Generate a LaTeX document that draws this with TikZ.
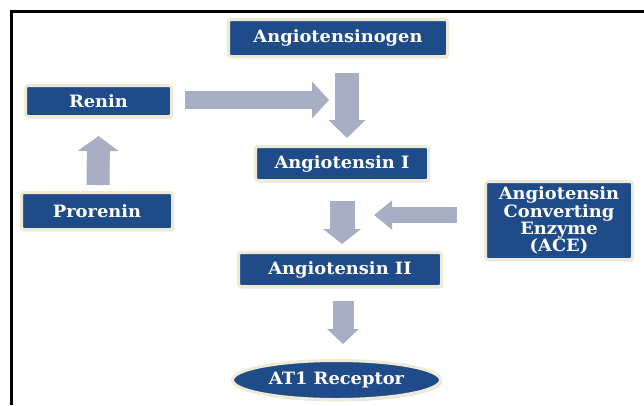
\documentclass[tikz,border=0pt]{standalone}
\usepackage{fontspec}
\setmainfont{DejaVu Serif}[FakeStretch=1.05]
\usetikzlibrary{arrows.meta,calc,shadows,shapes.geometric}
\definecolor{boxblue}{HTML}{1F4C88}
\definecolor{cream}{HTML}{EEEAD6}
\definecolor{arrowgray}{HTML}{A8AEC3}
\begin{document}
\begin{tikzpicture}[x=1pt,y=-1pt,
  box/.style={rectangle, rounded corners=2.5pt, fill=boxblue, draw=cream, line width=3pt,
    text=white, font=\bfseries\fontsize{17}{16}\selectfont, inner sep=0pt, align=center,
    drop shadow={shadow xshift=1.2pt, shadow yshift=-1.8pt, fill=black!30, opacity=0.45}},
  oval/.style={ellipse, fill=boxblue, draw=cream, line width=3pt,
    text=white, font=\bfseries\fontsize{17}{16}\selectfont, inner sep=0pt,
    drop shadow={shadow xshift=1.2pt, shadow yshift=-1.8pt, fill=black!30, opacity=0.45}},
  barrow/.style={draw=arrowgray, line cap=butt}
]
\useasboundingbox (0,0) rectangle (644,405);
\fill[white] (0,0) rectangle (644,405);
% frame
\draw[black, line width=3pt] (644,11.5) -- (11.5,11.5) -- (11.5,405);

% nodes
\node[box, minimum width=219pt, minimum height=37pt] (ang) at (338,38) {Angiotensinogen};
\node[box, minimum width=146pt, minimum height=31pt] (renin) at (98.5,101) {Renin};
\node[box, minimum width=151pt, minimum height=37pt] (prorenin) at (97,211) {Prorenin};
\node[box, minimum width=173pt, minimum height=34pt] (ang1) at (342,163.5) {Angiotensin I};
\node[box, minimum width=147pt, minimum height=78pt] (ace) at (559,220.5) {Angiotensin\\Converting\\Enzyme\\(ACE)};
\node[box, minimum width=203pt, minimum height=34pt] (ang2) at (340,269.5) {Angiotensin II};
\node[oval, minimum width=208pt, minimum height=39pt] (at1) at (336.5,380) {AT1 Receptor};

% block arrows
\draw[barrow, line width=18pt, -{Triangle[length=17pt, width=36pt]}]
  ($(renin.east)+(12,-1)$) -- ($(renin.east)+(156,-1)$);
\draw[barrow, line width=24pt, -{Triangle[length=18pt, width=36pt]}]
  ($(ang.south)+(9,15)$) -- ($(ang1.north)+(5,-7)$);
\draw[barrow, line width=23pt, -{Triangle[length=15pt, width=40pt]}]
  ($(prorenin.north)+(1,-6)$) -- ($(renin.south)+(0,18)$);
\draw[barrow, line width=25pt, -{Triangle[length=15pt, width=37pt]}]
  ($(ang1.south)+(0,19)$) -- ($(ang2.north)+(2,-7)$);
\draw[barrow, line width=16pt, -{Triangle[length=18pt, width=28pt]}]
  ($(ace.west)+(-27,-5.5)$) -- ($(ace.west)+(-110,-5.5)$);
\draw[barrow, line width=21pt, -{Triangle[length=15pt, width=31pt]}]
  ($(ang2.south)+(3,13)$) -- ($(at1.north)+(6.5,-15)$);
\end{tikzpicture}
\end{document}
